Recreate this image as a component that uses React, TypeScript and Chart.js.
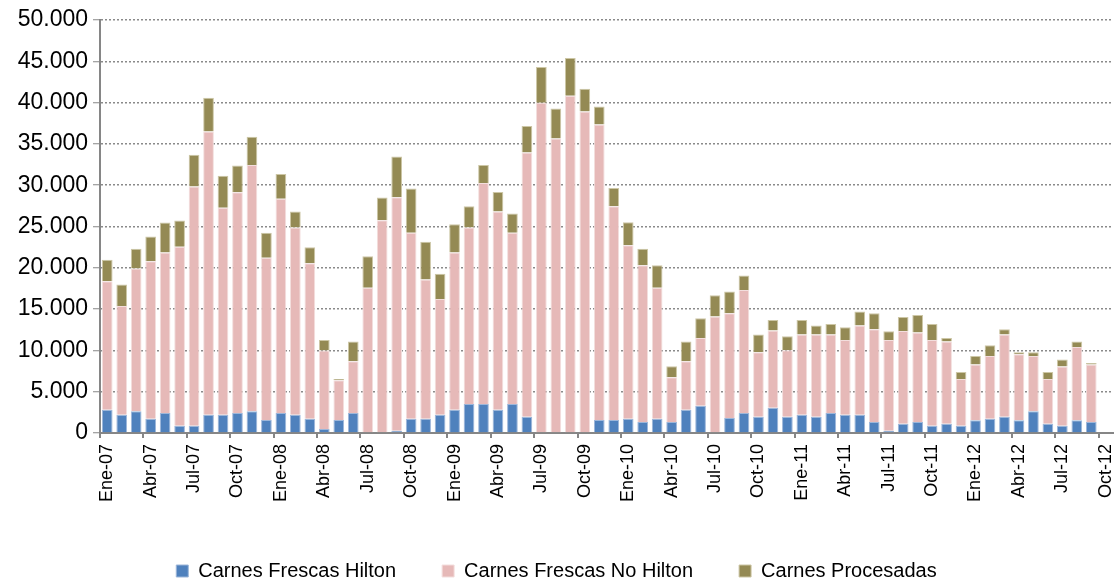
import React, { useEffect, useRef } from 'react';
import { Chart, registerables } from 'chart.js';

Chart.register(...registerables);

const categories = [
  'Ene-07', 'Feb-07', 'Mar-07', 'Abr-07', 'May-07', 'Jun-07', 'Jul-07', 'Ago-07', 'Sep-07', 'Oct-07', 'Nov-07', 'Dic-07',
  'Ene-08', 'Feb-08', 'Mar-08', 'Abr-08', 'May-08', 'Jun-08', 'Jul-08', 'Ago-08', 'Sep-08', 'Oct-08', 'Nov-08', 'Dic-08',
  'Ene-09', 'Feb-09', 'Mar-09', 'Abr-09', 'May-09', 'Jun-09', 'Jul-09', 'Ago-09', 'Sep-09', 'Oct-09', 'Nov-09', 'Dic-09',
  'Ene-10', 'Feb-10', 'Mar-10', 'Abr-10', 'May-10', 'Jun-10', 'Jul-10', 'Ago-10', 'Sep-10', 'Oct-10', 'Nov-10', 'Dic-10',
  'Ene-11', 'Feb-11', 'Mar-11', 'Abr-11', 'May-11', 'Jun-11', 'Jul-11', 'Ago-11', 'Sep-11', 'Oct-11', 'Nov-11', 'Dic-11',
  'Ene-12', 'Feb-12', 'Mar-12', 'Abr-12', 'May-12', 'Jun-12', 'Jul-12', 'Ago-12', 'Sep-12', 'Oct-12',
];

const hilton = [
  2827, 2221, 2625, 1737, 2423, 889, 889, 2221, 2221, 2423, 2625, 1575,
  2423, 2221, 1737, 485, 1575, 2423, 0, 0, 283, 1737, 1737, 2221,
  2827, 3514, 3514, 2827, 3514, 1979, 0, 0, 0, 0, 1575, 1575,
  1737, 1333, 1737, 1333, 2827, 3312, 0, 1818, 2423, 1979, 3070, 1979,
  2221, 1979, 2423, 2221, 2221, 1333, 283, 1131, 1333, 889, 1131, 889,
  1535, 1737, 1979, 1535, 2625, 1131, 889, 1535, 1333,
];

const noHilton = [
  15550, 13167, 17287, 19064, 19428, 21649, 28960, 34291, 25042, 26738, 29808, 19630,
  25930, 22659, 18822, 9492, 4806, 6260, 17570, 25769, 28273, 22497, 16843, 14015,
  19024, 21366, 26738, 23992, 20720, 31989, 39986, 35664, 40834, 38936, 35786, 25890,
  21003, 18983, 15833, 5412, 5857, 8199, 14096, 12682, 14904, 7795, 9330, 8038,
  9694, 9936, 9492, 9047, 10784, 11229, 10986, 11229, 10825, 10380, 9936, 5655,
  6745, 7593, 9936, 7997, 6705, 5412, 7149, 8886, 6947,
];

const procesadas = [
  2585, 2585, 2383, 2989, 3635, 3191, 3837, 4079, 3877, 3231, 3433, 3029,
  2989, 1939, 1939, 1292, 162, 2383, 3837, 2747, 4928, 5372, 4564, 3029,
  3433, 2585, 2181, 2343, 2343, 3191, 4322, 3635, 4564, 2747, 2181, 2181,
  2787, 1979, 2747, 1333, 2383, 2383, 2585, 2625, 1737, 2141, 1292, 1696,
  1777, 1091, 1292, 1535, 1696, 1939, 1050, 1696, 2141, 1939, 444, 848,
  1050, 1292, 646, 242, 444, 848, 848, 646, 202,
];

const seriesNames = ['Carnes Frescas Hilton', 'Carnes Frescas No Hilton', 'Carnes Procesadas'];
const yTicks = [0, 5000, 10000, 15000, 20000, 25000, 30000, 35000, 40000, 45000, 50000];

const FONT = "'Liberation Sans', Arial, sans-serif";
const AXIS_GRAY = '#868686';

function fmt(v: number): string {
  return String(v).replace(/\B(?=(\d{3})+(?!\d))/g, '.');
}

export default function App() {
  const ref = useRef<HTMLCanvasElement>(null);

  useEffect(() => {
    if (!ref.current) return;
    const chart = new Chart(ref.current, {
      type: 'bar',
      data: {
        labels: categories,
        datasets: [
          {
            label: seriesNames[0],
            data: hilton,
            backgroundColor: '#4F81BD',
            borderColor: '#9DB6D9',
            borderWidth: 1,
          },
          {
            label: seriesNames[1],
            data: noHilton,
            backgroundColor: '#E6B9B8',
            borderColor: '#F3DEDD',
            borderWidth: 1,
          },
          {
            label: seriesNames[2],
            data: procesadas,
            backgroundColor: '#948A54',
            borderColor: '#CDC7A6',
            borderWidth: 1,
          },
        ],
      },
      options: {
        responsive: false,
        animation: false,
        layout: { padding: { left: 0, right: 6, top: 20, bottom: 0 } },
        datasets: { bar: { categoryPercentage: 1, barPercentage: 0.74 } },
        plugins: {
          legend: {
            position: 'bottom',
            maxHeight: 65,
            labels: {
              boxWidth: 12,
              boxHeight: 12,
              padding: 46,
              color: '#000',
              font: { family: FONT, size: 20 },
            },
          },
          tooltip: { enabled: false },
        },
        scales: {
          x: {
            stacked: true,
            offset: true,
            grid: {
              offset: true,
              drawOnChartArea: false,
              tickLength: 5,
              lineWidth: 2,
              color: (ctx: any) =>
                typeof ctx.index === 'number' && ctx.index % 3 === 0 ? AXIS_GRAY : 'rgba(0,0,0,0)',
            },
            border: { color: AXIS_GRAY, width: 2 },
            ticks: {
              autoSkip: false,
              minRotation: 90,
              maxRotation: 90,
              padding: 6,
              color: '#000',
              font: { family: FONT, size: 18 },
              callback: (_v: any, i: number) => (i % 3 === 0 ? categories[i] : ''),
            },
            afterFit: (s: any) => {
              s.height = 82;
              s.paddingLeft = 0;
              s.paddingRight = 0;
            },
          },
          y: {
            stacked: true,
            min: yTicks[0],
            max: yTicks[yTicks.length - 1],
            grid: {
              color: '#8a8a8a',
              lineWidth: 1.5,
              tickLength: 7,
              tickColor: AXIS_GRAY,
              tickWidth: 1,
            },
            border: { color: AXIS_GRAY, width: 2, dash: [2, 2] },
            ticks: {
              stepSize: 5000,
              padding: 5,
              color: '#000',
              font: { family: FONT, size: 23 },
              callback: (v: any) => fmt(Number(v)),
            },
            afterFit: (s: any) => {
              s.width = 100;
            },
          },
        },
      },
    });
    return () => chart.destroy();
  }, []);

  return (
    <div style={{ position: 'fixed', left: 0, top: 0, width: 1119, height: 580, background: '#fff' }}>
      <canvas ref={ref} width={1119} height={580} />
    </div>
  );
}
